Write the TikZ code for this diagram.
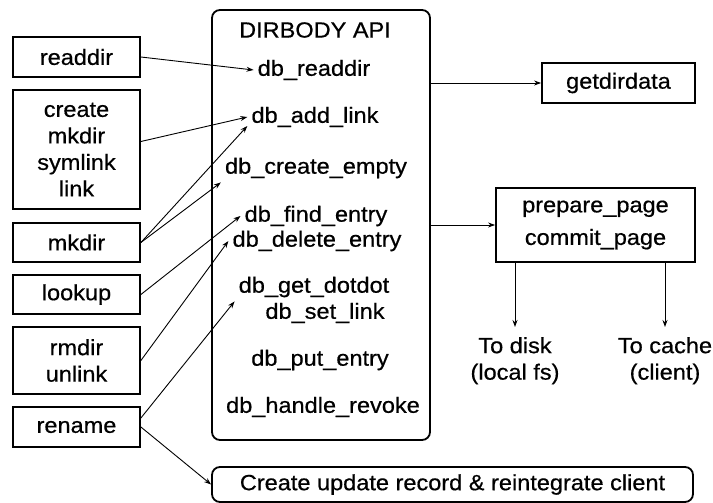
\documentclass[tikz,border=0pt]{standalone}
\usepackage{fontspec}
\setmainfont{Liberation Sans}[FakeStretch=1.07, FakeBold=0.6]
\usetikzlibrary{arrows.meta, positioning}

\begin{document}
\begin{tikzpicture}[x=1pt, y=-1pt, >={Stealth[length=7pt,width=5pt]},
  font=\fontsize{22}{26.5}\selectfont,
  box/.style={draw, line width=1.8pt, align=center, inner sep=0pt},
  call/.style={inner sep=4pt},
  lbl/.style={align=center, inner sep=0pt},
  link/.style={->, line width=0.9pt}]
\useasboundingbox (0,0) rectangle (713,503);

% Callers
\node[box, minimum width=127pt, minimum height=40pt] (readdir) at (76.5,57) {readdir};
\node[box, minimum width=127pt, minimum height=119pt] (create) at (76.5,149.5) {create\\mkdir\\symlink\\link};
\node[box, minimum width=127pt, minimum height=39pt] (mkdir) at (76.5,242.5) {mkdir};
\node[box, minimum width=127pt, minimum height=39pt] (lookup) at (76.5,294.5) {lookup};
\node[box, minimum width=127pt, minimum height=67pt] (rmdir) at (76.5,360.5) {rmdir\\unlink};
\node[box, minimum width=127pt, minimum height=40pt] (rename) at (76.5,427) {rename};

% API box
\node[box, rounded corners=8pt, minimum width=218pt, minimum height=430pt] (api) at (321,225) {};
\node (apititle) at (315,30) {DIRBODY API};
\node[call] (dbread) at (314,70) {db\_readdir};
\node[call] (dbadd) at (315,117) {db\_add\_link};
\node[call] (dbcreate) at (316,168) {db\_create\_empty};
\node[call] (dbfind) at (316,216) {db\_find\_entry};
\node[call] (dbdelete) at (317,241) {db\_delete\_entry};
\node[call] (dbget) at (314,287) {db\_get\_dotdot};
\node[call] (dbset) at (325,313) {db\_set\_link};
\node[call] (dbput) at (320,360) {db\_put\_entry};
\node[call] (dbrevoke) at (323,407) {db\_handle\_revoke};

% Right side
\node[box, minimum width=153pt, minimum height=40pt] (getdir) at (618.5,83) {getdirdata};
\node[box, minimum width=199pt, minimum height=74pt] (prepare) at (595.5,225) {prepare\_page\\[6pt]commit\_page};
\node[lbl, anchor=north] (todisk) at (515,337) {To disk\\(local fs)};
\node[lbl, anchor=north] (tocache) at (665,337) {To cache\\(client)};

% Bottom box
\node[box, rounded corners=8pt, minimum width=481pt, minimum height=35pt] (update) at (452.5,484.5) {Create update record \& reintegrate client};

% Arrows
\draw[link] (readdir.east) -- (dbread.west);
\draw[link] ([yshift=8pt]create.east) -- (dbadd.west);
\draw[link] (mkdir.east) -- ([yshift=-9pt]dbadd.west);
\draw[link] (mkdir.east) -- (dbcreate.south west);
\draw[link] (lookup.east) -- (dbfind.west);
\draw[link] (rmdir.east) -- (dbdelete.west);
\draw[link] ([yshift=9pt]rename.east) -- (dbget.south west);
\draw[link] (rename.east) -- (update.west);
\draw[link] (getdir -| api.east) -- (getdir.west);
\draw[link] (prepare -| api.east) -- (prepare.west);
\draw[link, shorten >=10pt] (prepare.south -| todisk) -- (todisk.north);
\draw[link, shorten >=10pt] (prepare.south -| tocache) -- (tocache.north);
\end{tikzpicture}
\end{document}
